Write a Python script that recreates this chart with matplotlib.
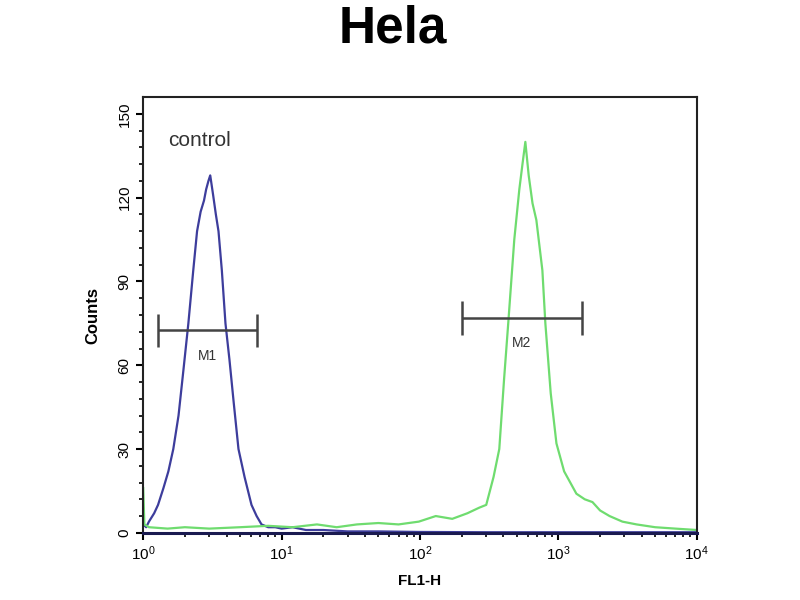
import numpy as np
import matplotlib.pyplot as plt

plt.rcParams['font.family'] = ['Liberation Sans', 'DejaVu Sans']

# control histogram (blue)
ctrl_x = [1.0, 1.05, 1.1, 1.2, 1.28, 1.4, 1.52, 1.65, 1.8, 1.95, 2.12, 2.3, 2.45,
          2.6, 2.75, 2.85, 2.96, 3.05, 3.2, 3.35, 3.5, 3.7, 3.93, 4.2, 4.5, 4.88,
          5.4, 6.06, 6.6, 7.16, 8.0, 9.0, 10.0, 12.0, 15.0, 20.0, 30.0, 50.0,
          100.0, 300.0, 1000.0, 10000.0]
ctrl_y = [3, 2, 4, 7, 10, 16, 22, 30, 42, 58, 75, 94, 108, 115, 119, 123, 126,
          128, 121, 114, 108, 94, 75, 62, 47, 30, 20, 10, 6, 3, 2, 2, 1.5, 2, 1,
          1, 0.5, 0.5, 0.3, 0.2, 0.2, 0.2]

# sample histogram (green)
samp_x = [1.0, 1.02, 1.1, 1.5, 2.0, 3.0, 5.0, 8.0, 12.0, 18.0, 25.0, 35.0, 50.0,
          70.0, 98.0, 130.0, 171.0, 220.0, 268.0, 301.0, 340.0, 374.0, 405.0,
          434.0, 480.0, 522.0, 550.0, 577.0, 610.0, 650.0, 693.0, 766.0, 805.0,
          880.0, 968.0, 1100.0, 1349.0, 1550.0, 1763.0, 2000.0, 2342.0, 2900.0,
          3673.0, 5000.0, 7000.0, 10000.0]
samp_y = [16, 3, 2, 1.5, 2, 1.5, 2, 2.5, 2, 3, 2, 3, 3.5, 3, 4, 6, 5, 7, 9, 10,
          20, 30, 55, 75, 105, 123, 132, 140, 128, 118, 112, 94, 75, 50, 32, 22,
          14, 12, 11, 8, 6, 4, 3, 2, 1.5, 1]

# gates
m1_lo, m1_hi, m1_y = 1.28, 6.6, 72.5
m2_lo, m2_hi, m2_y = 200.0, 1490.0, 77.0

fig = plt.figure(figsize=(8, 6), dpi=100)
ax = fig.add_axes([0.179, 0.112, 0.692, 0.726])

ax.plot(ctrl_x, ctrl_y, color='#3d3d9c', lw=1.6)
ax.plot(samp_x, samp_y, color='#6fdc6f', lw=1.6)

gate_col = '#444444'
for lo, hi, y, name in [(m1_lo, m1_hi, m1_y, 'M1'), (m2_lo, m2_hi, m2_y, 'M2')]:
    ax.hlines(y, lo, hi, color=gate_col, lw=1.8)
    ax.vlines([lo, hi], y - 6, y + 6, color=gate_col, lw=1.8)
    ax.text(np.sqrt(lo * hi), y - 6.5, name, ha='center', va='top', fontsize=10,
            color='#333333')

ax.set_xscale('log')
ax.set_xlim(1, 10000)
ax.set_ylim(0, 156)
ax.set_yticks([0, 30, 60, 90, 120, 150])
ax.set_yticks(np.arange(0, 156, 6), minor=True)
ax.tick_params(axis='both', direction='out', length=5, width=1.5, labelsize=11)
ax.tick_params(axis='both', which='minor', direction='out', length=3, width=1.2)
for lab in ax.get_yticklabels():
    lab.set_rotation(90)
    lab.set_va('center')
for sp in ax.spines.values():
    sp.set_linewidth(1.5)
    sp.set_color('#222222')
ax.spines['bottom'].set_linewidth(2.2)
ax.spines['bottom'].set_color('#1a1a50')

ax.set_xlabel('FL1-H', fontsize=11, fontweight='bold', labelpad=8)
ax.set_ylabel('Counts', fontsize=12, fontweight='bold', labelpad=12)
ax.text(0.045, 0.9, 'control', transform=ax.transAxes, fontsize=15,
        va='center', color='#333333')
fig.text(0.491, 0.952, 'Hela', ha='center', va='center', fontsize=37,
         fontweight='bold')

fig.savefig('out.png', dpi=100)
